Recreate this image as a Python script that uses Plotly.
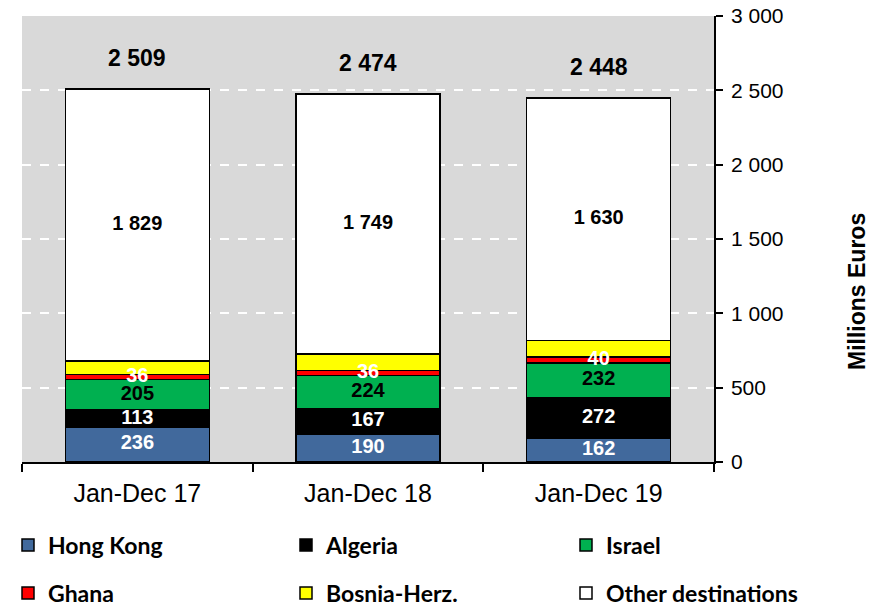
import plotly.graph_objects as go

categories = ["Jan-Dec 17", "Jan-Dec 18", "Jan-Dec 19"]
hong_kong = [236, 190, 162]
algeria = [113, 167, 272]
israel = [205, 224, 232]
ghana = [36, 36, 40]
bosnia = [90, 108, 112]
other = [1829, 1749, 1630]
totals = [2509, 2474, 2448]

series_names = ["Hong Kong", "Algeria", "Israel", "Ghana", "Bosnia-Herz.", "Other destinations"]
series_values = [hong_kong, algeria, israel, ghana, bosnia, other]
series_colors = ["#41699C", "#000000", "#00B050", "#FF0000", "#FFFF00", "#FFFFFF"]
series_labeled = [True, True, True, True, False, True]
label_colors = ["white", "white", "black", "white", "black", "black"]

# legend grid positions (pixels in the 879x606 canvas)
legend_x_px = [8, 286, 566, 8, 286, 566]
legend_y_px = [545, 545, 545, 593, 593, 593]

W, H = 879, 606
AR = "Liberation Sans, Arial, sans-serif"
LF = "Lato, Carlito, sans-serif"
fmt = lambda v: f"{v:,}".replace(",", " ")

fig = go.Figure()
base = [0, 0, 0]
label_traces = []
for i, (name, vals, color, labeled, tcolor) in enumerate(
        zip(series_names, series_values, series_colors, series_labeled, label_colors)):
    lg = "legend" if i == 0 else f"legend{i + 1}"
    fig.add_trace(go.Bar(
        x=categories, y=vals, name=name, legend=lg,
        marker=dict(color=color, line=dict(color="black", width=1.5)),
        hoverinfo="skip",
    ))
    if labeled:
        mids = [b + v / 2 for b, v in zip(base, vals)]
        label_traces.append(go.Scatter(
            x=categories, y=mids, mode="text", text=[fmt(v) for v in vals],
            textposition="middle center",
            textfont=dict(family=AR, size=20, color=tcolor, weight="bold"),
            showlegend=False, hoverinfo="skip",
        ))
    base = [b + v for b, v in zip(base, vals)]

for t in label_traces:
    fig.add_trace(t)

for c, t in zip(categories, totals):
    fig.add_annotation(x=c, y=t, text=fmt(t), showarrow=False, yshift=31,
                       font=dict(family=AR, size=23, color="black", weight="bold"))

# y-axis title (placed to the right of the tick labels, slightly below centre as in the original)
fig.add_annotation(text="Millions Euros", textangle=-90, showarrow=False,
                   xref="paper", x=(857 - 22) / 692, xanchor="center",
                   yref="paper", y=(462 - 292) / 446, yanchor="middle",
                   font=dict(family=AR, size=23, color="black", weight="bold"))

legends = {}
for i, (lx, ly) in enumerate(zip(legend_x_px, legend_y_px)):
    key = "legend" if i == 0 else f"legend{i + 1}"
    legends[key] = dict(
        orientation="h", xref="container", x=lx / W, xanchor="left",
        yref="container", y=(H - ly) / H, yanchor="middle",
        bgcolor="rgba(0,0,0,0)", borderwidth=0,
        font=dict(family=LF, size=23, color="black", weight="bold"),
    )

fig.update_layout(
    width=W, height=H,
    margin=dict(l=22, r=165, t=16, b=144, autoexpand=False),
    barmode="stack", bargap=0.376,
    plot_bgcolor="#D9D9D9", paper_bgcolor="white",
    separators=". ",
    font=dict(family=AR, color="black"),
    xaxis=dict(
        showline=True, linecolor="black", linewidth=1.5,
        ticks="outside", tickson="boundaries", ticklen=8, tickcolor="black", tickwidth=1.5,
        tickfont=dict(family=AR, size=25, color="black"),
        ticklabelstandoff=8,
        showgrid=False, automargin=False,
    ),
    yaxis=dict(
        side="right", range=[0, 3000], dtick=500, separatethousands=True,
        showline=True, linecolor="black", linewidth=1.5,
        ticks="outside", ticklen=7, tickcolor="black", tickwidth=1.5,
        tickfont=dict(family=AR, size=21, color="black"),
        ticklabelstandoff=4,
        showgrid=True, gridcolor="white", griddash="dash", gridwidth=2,
        zeroline=False, automargin=False,
    ),
    **legends,
)

fig.write_html("out.html", config={"displayModeBar": False},
               post_script="document.body.style.margin='0';document.body.style.overflow='hidden';")
